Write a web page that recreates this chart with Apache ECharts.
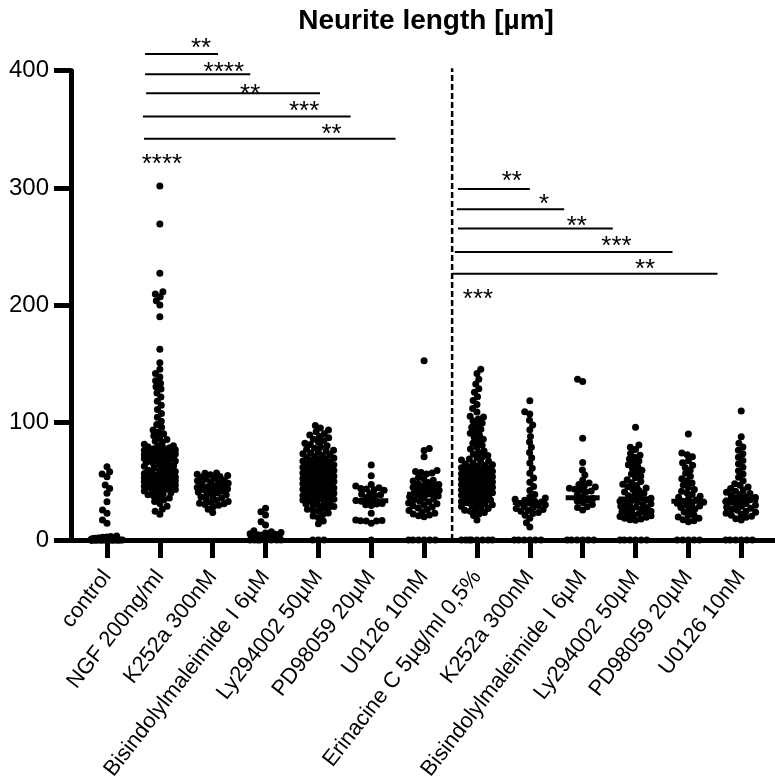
<!DOCTYPE html>
<html>
<head>
<meta charset="utf-8">
<script src="https://cdn.jsdelivr.net/npm/echarts@6/dist/echarts.min.js"></script>
<style>
  html, body { margin: 0; padding: 0; background: #fff; }
  #chart { width: 775px; height: 784px; }
</style>
</head>
<body>
<div id="chart"></div>
<script>
// Treatment groups (left block: NGF-based, right block: Erinacine C-based)
const categories = [
  'control', 'NGF 200ng/ml', 'K252a 300nM', 'Bisindolylmaleimide I 6µM',
  'Ly294002 50µM', 'PD98059 20µM', 'U0126 10nM', 'Erinacine C 5µg/ml 0,5%',
  'K252a 300nM', 'Bisindolylmaleimide I 6µM', 'Ly294002 50µM', 'PD98059 20µM', 'U0126 10nM'
];

// Neurite length per cell [µm]
const control = [0,0,0,0,0,0,0,0,0,0,0,0,0,0,0,0,0,0,0,0,0,0,0,0,
  0.8, 1.2, 1.5, 1.9, 2.3, 2.6, 3.0, 3.4,
  14.2, 17.0, 22.7, 25.6, 32.7, 39.8, 44.0, 46.9, 54.0, 56.3, 58.2, 62.5];
const ngf = [22.0, 24.6, 26.3, 28.8, 31.2, 32.9, 34.4, 35.7, 36.4, 37.8, 38.6, 39.5,
  40.3, 41.1, 41.7, 42.6, 43.4, 43.9, 44.8, 45.2, 45.9, 46.3, 46.9, 47.6, 48.1, 48.8,
  49.3, 49.9, 50.2, 50.8, 51.6, 52.0, 52.7, 53.1, 53.8, 54.3, 54.9, 55.6, 56.2, 57.3,
  57.8, 58.9, 59.4, 60.3, 61.2, 61.7, 62.8, 63.5, 64.4, 65.1, 65.8, 66.2, 67.3, 67.9,
  68.6, 69.4, 70.1, 70.6, 71.2, 71.5, 72.3, 72.7, 73.4, 73.9, 74.2, 74.8, 75.5, 76.1,
  77.0, 77.7, 78.6, 79.3, 80.4, 81.6, 83.0, 84.2, 85.7, 87.2, 88.8, 90.5, 92.1, 93.7,
  96.0, 98.4, 101.2, 104.6, 107.9, 111.3, 114.8, 118.2, 121.9, 125.3, 128.6, 130.7,
  133.5, 135.8, 139.0, 142.0, 145.5, 151.0, 162.5, 190.3, 200.3, 204.0, 207.4, 209.7,
  211.6, 227.3, 269.3, 301.7,
  43.1, 45.6, 47.1, 48.4, 50.5, 51.2, 52.3, 53.5, 54.6, 56.7, 58.3, 66.9, 69.0, 70.9,
  72.0, 73.1, 75.0, 76.6, 78.1, 80.0];
const k252a = [57.2, 56.8, 56.1, 55.6, 55.0, 54.2, 53.3, 52.6, 51.8, 51.2, 50.4, 49.7,
  48.9, 48.3, 47.6, 46.8, 46.2, 45.5, 44.7, 44.1, 43.6, 43.0, 42.3, 41.7, 40.8, 40.0,
  39.2, 38.5, 37.4, 36.6, 35.8, 34.9, 33.7, 32.8, 32.1, 31.4, 30.9, 30.2, 29.6, 28.4,
  26.3, 23.5];
const bisindolyl = [0,0,0,0,0,0,0,0, 1.2, 1.8, 2.5, 3.1, 3.6, 4.2, 4.8, 5.3, 5.9, 6.4,
  7.1, 7.8, 12.8, 15.6, 21.3, 24.0, 27.0];
const ly294002 = [0,0,0, 13.8, 16.2, 18.9, 20.4, 21.7, 23.1, 24.5, 25.3, 26.2, 27.0,
  27.9, 28.6, 29.5, 30.2, 30.8, 31.5, 32.1, 32.9, 33.4, 34.0, 34.7, 35.1, 35.8, 36.3,
  36.9, 37.5, 38.0, 38.6, 39.2, 39.8, 40.1, 40.6, 41.2, 41.7, 42.3, 42.8, 43.3, 43.9,
  44.4, 44.9, 45.2, 45.7, 46.3, 46.8, 47.4, 47.9, 48.3, 48.8, 49.4, 49.9, 50.3, 50.8,
  51.3, 51.9, 52.4, 52.9, 53.5, 53.9, 54.4, 54.8, 55.4, 55.9, 56.5, 57.1, 57.6, 58.2,
  58.7, 59.3, 59.8, 60.3, 60.9, 61.4, 62.0, 62.6, 63.1, 63.7, 64.2, 64.8, 65.4, 66.0,
  66.7, 67.3, 67.9, 68.6, 69.3, 69.8, 70.5, 71.3, 72.0, 72.8, 73.5, 74.1, 74.8, 75.6,
  76.5, 77.4, 78.3, 79.2, 80.3, 81.4, 82.5, 83.6, 84.7, 85.8, 87.1, 88.3, 89.4, 90.6,
  92.2, 93.8, 95.4, 97.6];
const pd98059 = [64.0, 54.8, 47.2, 46.1, 44.6, 44.0, 43.4, 42.9, 42.3, 39.7, 39.1, 38.6,
  37.9, 36.2, 34.4, 33.6, 33.1, 31.2, 30.6, 30.0, 29.3, 22.7, 17.0, 16.6, 16.5, 16.3,
  16.1, 14.3, 0];
const u0126 = [152.8, 78.0, 76.2, 71.0, 59.2, 58.4, 57.6, 57.1, 56.3, 53.2, 52.1, 51.0,
  50.2, 49.1, 48.0, 47.3, 46.5, 45.9, 45.0, 44.1, 43.2, 42.3, 41.6, 40.9, 40.1, 39.2,
  38.3, 37.6, 36.9, 36.1, 35.0, 34.2, 33.1, 32.3, 31.6, 30.8, 30.0, 29.1, 28.2, 27.3,
  26.1, 25.2, 24.0, 22.8, 22.1, 21.3, 20.6, 19.9, 0, 0, 0, 0, 0, 0];
const erinacine = [0,0,0,0,0,0,0,0, 17.0, 20.8, 22.1, 23.4, 24.6, 25.3, 26.1, 26.9,
  27.8, 28.6, 29.5, 30.1, 30.6, 31.2, 31.7, 32.3, 32.9, 33.5, 34.1, 34.7, 35.0, 35.5,
  36.0, 36.5, 37.1, 37.6, 38.2, 38.7, 39.3, 39.8, 40.2, 40.7, 41.2, 41.8, 42.3, 42.9,
  43.4, 43.9, 44.5, 44.9, 45.3, 45.8, 46.3, 46.9, 47.4, 47.9, 48.5, 49.0, 49.5, 49.9,
  50.3, 50.8, 51.3, 51.9, 52.4, 52.9, 53.4, 54.0, 54.5, 54.9, 55.4, 55.9, 56.5, 57.1,
  57.6, 58.2, 58.7, 59.3, 59.8, 60.4, 61.0, 61.6, 62.2, 62.8, 63.5, 64.1, 64.7, 65.5,
  66.3, 67.2, 68.1, 69.0, 69.8, 70.9, 72.1, 73.4, 74.6, 75.9, 77.5, 79.1, 80.7, 82.4,
  84.1, 85.8, 87.6, 89.3, 91.0, 92.8, 94.5, 96.2, 98.0, 99.7, 101.4, 103.2, 104.8,
  105.5, 109.0, 112.0, 115.5, 119.0, 122.0, 126.0, 129.0, 133.0, 137.0, 142.0, 145.5];
const erK252a = [0,0,0,0,0,0, 11.0, 14.8, 18.6, 21.2, 22.6, 23.5, 24.4, 25.2, 26.0, 26.9,
  27.7, 28.5, 29.3, 30.0, 30.8, 31.5, 32.3, 33.1, 33.9, 34.8, 35.7, 36.6, 38.8, 42.1,
  45.6, 49.3, 52.8, 56.9, 61.2, 65.6, 70.1, 74.5, 79.0, 83.5, 88.2, 94.0, 98.1, 102.0,
  107.4, 109.4, 118.7];
const erBisindolyl = [137.0, 135.0, 86.7, 66.0, 59.7, 55.4, 51.0, 48.6, 47.2, 46.0, 45.1,
  44.2, 43.3, 42.6, 41.8, 41.0, 38.2, 37.0, 35.3, 34.1, 33.2, 32.0, 30.3, 28.4, 27.6,
  25.6, 0, 0, 0, 0, 0, 0];
const erLy294002 = [0,0,0,0,0,0, 16.8, 17.2, 17.9, 18.6, 19.3, 20.0, 20.6, 21.3, 22.0,
  22.6, 23.3, 24.0, 24.6, 25.3, 26.0, 26.7, 27.4, 28.1, 28.8, 29.5, 30.2, 30.9, 31.6,
  32.3, 33.0, 33.7, 34.4, 35.5, 36.6, 37.7, 38.8, 39.9, 41.0, 42.1, 43.2, 44.3, 45.4,
  46.5, 47.6, 48.7, 49.8, 51.4, 53.0, 54.6, 56.2, 57.8, 59.4, 61.0, 62.6, 64.2, 65.8,
  67.4, 69.0, 70.6, 72.2, 73.8, 77.2, 79.0, 81.0, 96.0];
const erPd98059 = [0,0,0,0,0, 15.6, 16.4, 17.3, 18.5, 19.6, 20.8, 21.5, 23.9, 25.6, 26.4,
  27.8, 28.9, 29.7, 30.8, 31.4, 32.2, 33.0, 34.1, 35.2, 36.4, 37.3, 38.7, 40.2, 41.6,
  43.1, 44.9, 46.8, 48.5, 50.6, 52.3, 54.4, 56.8, 59.5, 61.7, 63.8, 65.9, 67.6, 70.9,
  72.7, 74.1, 90.3];
const erU0126 = [0,0,0,0,0,0, 17.0, 18.2, 19.4, 20.3, 21.1, 21.9, 22.8, 23.6, 24.5, 25.4,
  26.2, 27.0, 27.9, 28.7, 29.6, 30.4, 31.2, 32.1, 32.9, 33.8, 34.6, 35.5, 36.3, 37.1,
  38.0, 38.8, 39.7, 40.6, 41.6, 42.7, 43.9, 45.2, 46.6, 48.0, 50.6, 53.4, 56.3, 59.1,
  62.0, 64.9, 67.8, 70.6, 73.5, 76.4, 79.2, 82.5, 88.0, 110.0];

// Median per group
const medians = [0, 70, 43, 5, 49, 33.5, 39, 48, 32, 36, 35, 33, 34];

// Pairwise comparison brackets
const bracketFrom  = [0.72, 0.72, 0.74, 0.68, 0.70, 6.64, 6.62, 6.64, 6.58, 6.53];
const bracketTo    = [2.10, 2.71, 4.03, 4.61, 5.46, 8.00, 8.65, 9.57, 10.70, 11.55];
const bracketLevel = [414.3, 397.0, 380.8, 360.9, 342.1, 299.2, 281.9, 265.4, 245.5, 227.0];
const bracketStars = ['**', '****', '**', '***', '**', '**', '*', '**', '***', '**'];
const starX        = [1.78, 2.21, 2.71, 3.73, 4.25, 7.66, 8.27, 8.89, 9.64, 10.18];
const starLevel    = [422.9, 402.1, 383.6, 368.9, 349.3, 309.2, 289.9, 271.1, 254.1, 234.2];
// Comparison against control
const noteText  = ['****', '***'];
const noteX     = [1.04, 7.02];
const noteLevel = [323.8, 208.9];
// Divider between the two treatment blocks
const dividerX = 6.53;
const dividerTop = 402;

const groups = [control, ngf, k252a, bisindolyl, ly294002, pd98059, u0126,
  erinacine, erK252a, erBisindolyl, erLy294002, erPd98059, erU0126];

// ---- layout ----
const W = 775, H = 784;
const grid = { left: 71, right: 0, top: 70.7, bottom: 244 };
const xMin = -0.681, xMax = 12.639, yMax = 400;
const plotW = W - grid.left - grid.right;
const plotH = H - grid.top - grid.bottom;
const pxPerUnit = plotH / yMax;
const pxPerCat = plotW / (xMax - xMin);
const FONT = '"Liberation Sans", Arial, Helvetica, sans-serif';
const DOT = 7;

// Beeswarm offsets (pixels) so that dots of one column do not pile up
function swarmOffsets(values, diam, halfWidth) {
  const order = values.map((v, i) => i).sort((a, b) => values[a] - values[b]);
  const placed = [];
  const out = new Array(values.length);
  for (const i of order) {
    const y = values[i] * pxPerUnit;
    const near = placed.filter(p => Math.abs(p.y - y) < diam);
    const cands = [0];
    near.forEach(p => {
      const dx = Math.sqrt(diam * diam - (p.y - y) * (p.y - y));
      cands.push(p.x + dx, p.x - dx);
    });
    const flip = placed.length % 2 ? 1 : -1;
    cands.sort((a, b) => (Math.abs(a) - Math.abs(b)) || flip * (a - b));
    let x = null;
    for (const c of cands) {
      if (Math.abs(c) > halfWidth + 1e-9) break;
      if (near.every(p => (p.x - c) ** 2 + (p.y - y) ** 2 >= diam * diam - 1e-6)) { x = c; break; }
    }
    if (x === null) {
      let best = 0, bestGap = -1;
      for (let s = -halfWidth; s <= halfWidth + 1e-9; s += halfWidth / 8) {
        const gap = Math.min(...near.map(p => Math.hypot(p.x - s, p.y - y)));
        if (gap > bestGap + 1e-9) { bestGap = gap; best = s; }
      }
      x = best;
    }
    placed.push({ x, y });
    out[i] = x;
  }
  return out;
}

const dots = [];
groups.forEach((vals, gi) => {
  const offs = swarmOffsets(vals, 5.6, 15.5);
  vals.forEach((v, k) => dots.push([gi + offs[k] / pxPerCat, v]));
});

const catIdx = categories.map((c, i) => i);

const chart = echarts.init(document.getElementById('chart'), null, { renderer: 'canvas' });
chart.setOption({
  animation: false,
  backgroundColor: '#fff',
  title: {
    text: 'Neurite length [µm]',
    left: 421, top: 2, textAlign: 'center',
    textStyle: { fontFamily: FONT, fontSize: 28, fontWeight: 'bold', color: '#000' }
  },
  grid: { left: grid.left, right: grid.right, top: grid.top, bottom: grid.bottom, containLabel: false },
  xAxis: {
    type: 'value', min: xMin, max: xMax,
    splitLine: { show: false },
    axisLine: { show: true, onZero: false, lineStyle: { color: '#000', width: 5 } },
    axisTick: { show: true, customValues: catIdx, length: 18, lineStyle: { color: '#000', width: 5 } },
    axisLabel: {
      show: true, customValues: catIdx, rotate: 52, margin: 33,
      fontFamily: FONT, fontSize: 22, color: '#000',
      formatter: v => categories[Math.round(v)]
    }
  },
  yAxis: {
    type: 'value', min: 0, max: yMax, interval: 100,
    splitLine: { show: false },
    axisLine: { show: true, onZero: false, lineStyle: { color: '#000', width: 5 } },
    axisTick: { show: true, length: 17, lineStyle: { color: '#000', width: 5 } },
    axisLabel: { margin: 22, fontFamily: FONT, fontSize: 24, color: '#000' }
  },
  series: [
    {
      type: 'scatter', silent: true, z: 3,
      symbol: 'circle', symbolSize: DOT,
      itemStyle: { color: '#000', opacity: 1 },
      data: dots
    },
    {
      // median bars
      type: 'custom', silent: true, z: 4,
      data: catIdx.map(i => [i, medians[i]]),
      renderItem(params, api) {
        const p = api.coord([api.value(0), api.value(1)]);
        return { type: 'rect', shape: { x: p[0] - 17, y: p[1] - 2.5, width: 34, height: 5 }, style: { fill: '#000' } };
      }
    },
    {
      // divider between the NGF and Erinacine C blocks
      type: 'custom', silent: true, clip: false, z: 4,
      data: [[dividerX, 0, dividerTop]],
      renderItem(params, api) {
        const a = api.coord([api.value(0), api.value(1)]);
        const b = api.coord([api.value(0), api.value(2)]);
        return { type: 'line', shape: { x1: a[0], y1: a[1], x2: b[0], y2: b[1] },
          style: { stroke: '#000', lineWidth: 2.5, lineDash: [6, 3] } };
      }
    },
    {
      // comparison bracket lines
      type: 'custom', silent: true, clip: false, z: 4,
      data: bracketFrom.map((x0, i) => [x0, bracketLevel[i], bracketTo[i]]),
      renderItem(params, api) {
        const a = api.coord([api.value(0), api.value(1)]);
        const b = api.coord([api.value(2), api.value(1)]);
        return { type: 'line', shape: { x1: a[0], y1: a[1], x2: b[0], y2: b[1] },
          style: { stroke: '#000', lineWidth: 2 } };
      }
    },
    {
      // significance stars
      type: 'custom', silent: true, clip: false, z: 5,
      data: starX.map((x, i) => [x, starLevel[i], i]).concat(noteX.map((x, i) => [x, noteLevel[i], 100 + i])),
      renderItem(params, api) {
        const p = api.coord([api.value(0), api.value(1)]);
        const k = api.value(2);
        const txt = k >= 100 ? noteText[k - 100] : bracketStars[k];
        return { type: 'text', x: p[0], y: p[1] + 5,
          style: { text: txt, fontFamily: FONT, fontSize: 26, fill: '#000', align: 'center', verticalAlign: 'middle' } };
      }
    }
  ]
});
</script>
</body>
</html>
